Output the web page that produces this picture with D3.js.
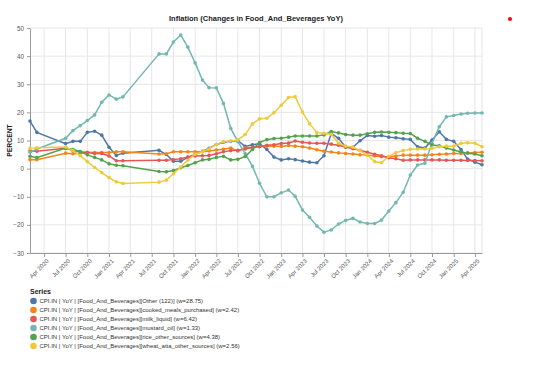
<!DOCTYPE html>
<html>
<head>
<meta charset="utf-8">
<script src="https://cdn.jsdelivr.net/npm/d3@7"></script>
<style>
  body { margin: 0; background: #fff; }
  svg { font-family: "Liberation Sans", Arial, sans-serif; }
  .grid line { stroke: #e6e6e6; }
  .axis path, .axis line { stroke: #999; }
  .axis text { fill: #555; }
</style>
</head>
<body>
<svg id="chart" width="538" height="366"></svg>
<script>
// months present in the source (Apr-Jun 2020 and Apr-Jul 2021 are missing)
var months = ['2020-02','2020-03','2020-07','2020-08','2020-09','2020-10','2020-11','2020-12',
  '2021-01','2021-02','2021-03','2021-08','2021-09','2021-10','2021-11','2021-12',
  '2022-01','2022-02','2022-03','2022-04','2022-05','2022-06','2022-07','2022-08','2022-09','2022-10','2022-11','2022-12',
  '2023-01','2023-02','2023-03','2023-04','2023-05','2023-06','2023-07','2023-08','2023-09','2023-10','2023-11','2023-12',
  '2024-01','2024-02','2024-03','2024-04','2024-05','2024-06','2024-07','2024-08','2024-09','2024-10','2024-11','2024-12',
  '2025-01','2025-02','2025-03','2025-04','2025-05'];

var other = [16.9,12.9,8.9,9.7,9.7,12.9,13.3,11.9,7.6,4.7,5.5,6.5,5.0,2.6,2.6,4.0,
  5.1,6.2,7.2,8.6,9.4,9.7,10.0,7.9,8.5,8.9,6.8,4.1,
  3.1,3.5,3.2,2.7,2.3,2.1,4.6,12.5,10.8,7.6,7.6,9.9,
  11.8,11.5,11.8,11.2,11.0,10.6,10.4,7.8,7.3,10.2,13.1,10.4,
  9.7,6.8,3.4,2.3,1.4];
var cooked = [3.2,3.2,5.5,5.3,5.5,5.8,5.7,5.7,5.7,6.0,6.0,5.2,5.3,6.0,6.0,6.0,
  6.0,6.0,6.3,6.6,6.9,7.3,6.3,7.3,7.6,7.9,8.0,8.0,
  7.9,8.2,8.0,7.8,7.3,6.7,6.2,5.9,5.6,5.4,5.2,4.9,
  4.8,4.5,4.2,4.2,4.5,4.8,4.8,4.8,4.8,4.9,5.1,5.2,
  5.4,5.4,5.6,5.7,5.8];
var milk = [6.3,6.2,7.2,6.4,6.0,5.7,5.4,5.4,4.5,2.8,2.8,3.0,3.0,3.2,3.5,4.1,
  4.5,4.6,4.7,5.3,6.0,6.4,6.5,7.0,7.5,7.8,8.3,8.5,
  8.9,9.1,9.8,9.4,9.1,9.0,9.0,8.7,8.3,7.7,7.1,6.5,
  5.8,5.1,4.6,3.9,3.5,3.0,3.1,3.1,3.1,3.1,3.1,3.0,
  3.0,3.0,2.9,2.9,2.8];
var mustard = [5.8,7.0,10.8,13.5,15.3,17.1,19.1,23.6,26.2,24.7,25.5,40.8,40.8,45.0,47.5,43.2,
  37.6,31.5,28.8,28.7,23.2,14.3,9.6,5.4,0.8,-5.2,-10.0,-10.0,
  -8.6,-7.6,-9.8,-14.7,-17.3,-20.4,-22.6,-21.8,-19.7,-18.4,-17.7,-19.0,
  -19.5,-19.5,-18.3,-15.1,-12.1,-8.4,-2.3,1.3,1.9,9.0,14.9,18.4,
  18.9,19.4,19.7,19.8,19.8];
var rice = [4.4,3.9,7.3,6.8,6.1,4.9,4.0,3.1,1.7,1.2,1.0,-1.0,-1.1,-0.7,0.3,1.1,
  2.1,3.1,3.3,4.0,4.4,3.1,3.3,4.3,6.8,9.3,10.3,10.7,
  10.8,11.2,11.6,11.6,11.6,11.6,12.0,13.2,12.7,12.1,11.9,11.9,
  12.4,12.9,13.0,12.9,12.8,12.6,12.5,10.8,9.7,8.4,8.1,7.3,
  6.6,5.9,5.5,5.2,4.6];
var wheat = [7.2,7.4,7.7,6.4,4.6,2.5,0.4,-1.4,-3.2,-4.7,-5.3,-4.8,-4.1,-1.8,0.6,3.0,
  5.1,6.0,7.0,8.6,9.6,9.8,10.2,12.1,15.9,17.7,17.9,19.9,
  22.5,25.3,25.6,20.1,16.0,12.8,12.6,12.2,9.0,8.0,7.6,6.4,
  4.8,2.5,2.1,4.4,5.7,6.4,6.9,7.0,7.0,7.2,7.8,8.0,
  8.0,9.0,9.2,9.0,7.8];

var seriesNames = [
  'CPI.IN | YoY | [Food_And_Beverages][Other (122)] (w=28.75)',
  'CPI.IN | YoY | [Food_And_Beverages][cooked_meals_purchased] (w=2.42)',
  'CPI.IN | YoY | [Food_And_Beverages][milk_liquid] (w=6.42)',
  'CPI.IN | YoY | [Food_And_Beverages][mustard_oil] (w=1.33)',
  'CPI.IN | YoY | [Food_And_Beverages][rice_other_sources] (w=4.38)',
  'CPI.IN | YoY | [Food_And_Beverages][wheat_atta_other_sources] (w=2.56)'
];
var seriesValues = [other, cooked, milk, mustard, rice, wheat];
var colors = ['#4c78a8','#f58518','#e45756','#72b7b2','#54a24b','#eeca3b'];
var yTicks = [-30,-20,-10,0,10,20,30,40,50];

var svg = d3.select('#chart');
var margin = {left:30, right:56, top:28, bottom:113};
var width = +svg.attr('width');
var height = +svg.attr('height');

var parse = d3.timeParse('%Y-%m');
var dates = months.map(parse);

var x = d3.scaleTime()
    .domain(d3.extent(dates))
    .range([margin.left, width - margin.right]);
var y = d3.scaleLinear()
    .domain([-30, 50])
    .range([height - margin.bottom, margin.top]);

var xTicks = x.ticks(d3.timeMonth.every(3));

// grid
var grid = svg.append('g').attr('class','grid');
grid.selectAll('.gy').data(yTicks).enter().append('line')
    .attr('x1', margin.left).attr('x2', width - margin.right)
    .attr('y1', d=>y(d)).attr('y2', d=>y(d));
grid.selectAll('.gx').data(xTicks.concat([x.domain()[1]])).enter().append('line')
    .attr('x1', d=>x(d)).attr('x2', d=>x(d))
    .attr('y1', margin.top).attr('y2', height - margin.bottom);

// axes
var gx = svg.append('g').attr('class','axis')
    .attr('transform', `translate(0,${height - margin.bottom})`)
    .call(d3.axisBottom(x).tickValues(xTicks).tickFormat(d3.timeFormat('%b %Y')).tickSize(4).tickSizeOuter(0));
gx.selectAll('text')
    .style('font-size','6px')
    .attr('text-anchor','end')
    .attr('x', 0).attr('y', 0).attr('dy','0.35em')
    .attr('transform','translate(3,7) rotate(-45)');

var gy = svg.append('g').attr('class','axis')
    .attr('transform', `translate(${margin.left},0)`)
    .call(d3.axisLeft(y).tickValues(yTicks).tickSize(3).tickSizeOuter(0));
gy.selectAll('text').style('font-size','6.3px');

// lines and points
var line = d3.line()
    .x((d,i)=>x(dates[i]))
    .y(d=>y(d));

seriesValues.forEach(function (vals, k) {
    var g = svg.append('g');
    g.append('path')
        .datum(vals)
        .attr('d', line)
        .attr('fill','none')
        .attr('stroke', colors[k])
        .attr('stroke-width', 1.5);
    g.selectAll('circle').data(vals).enter().append('circle')
        .attr('cx', (d,i)=>x(dates[i]))
        .attr('cy', d=>y(d))
        .attr('r', 1.8)
        .attr('fill', colors[k]);
});

// title
svg.append('text')
    .text('Inflation (Changes in Food_And_Beverages YoY)')
    .attr('x', (margin.left + width - margin.right) / 2)
    .attr('y', 21)
    .attr('text-anchor','middle')
    .style('font-size','7.5px')
    .style('font-weight','bold')
    .attr('fill','#222');

svg.append('text')
    .text('PERCENT')
    .attr('transform', `translate(12,${(margin.top + height - margin.bottom) / 2}) rotate(-90)`)
    .attr('text-anchor','middle')
    .style('font-size','6.8px')
    .style('font-weight','bold')
    .attr('fill','#222');

// small red marker top right
svg.append('circle')
    .attr('cx', 510).attr('cy', 19).attr('r', 2)
    .attr('fill', '#f00');

// legend
var legend = svg.append('g').attr('transform','translate(30,0)');
legend.append('text')
    .text('Series')
    .attr('x', 0).attr('y', 294)
    .style('font-size','7px')
    .style('font-weight','bold')
    .attr('fill','#222');
var items = legend.selectAll('.item').data(seriesNames).enter().append('g')
    .attr('transform', (d,i)=>`translate(0,${301 + i * 9})`);
items.append('circle')
    .attr('cx', 3.5).attr('cy', 0).attr('r', 3.3)
    .attr('fill', (d,i)=>colors[i]);
items.append('text')
    .text(d=>d)
    .attr('x', 9.5).attr('y', 2.2)
    .style('font-size','6px')
    .attr('fill','#333');
</script>
</body>
</html>
